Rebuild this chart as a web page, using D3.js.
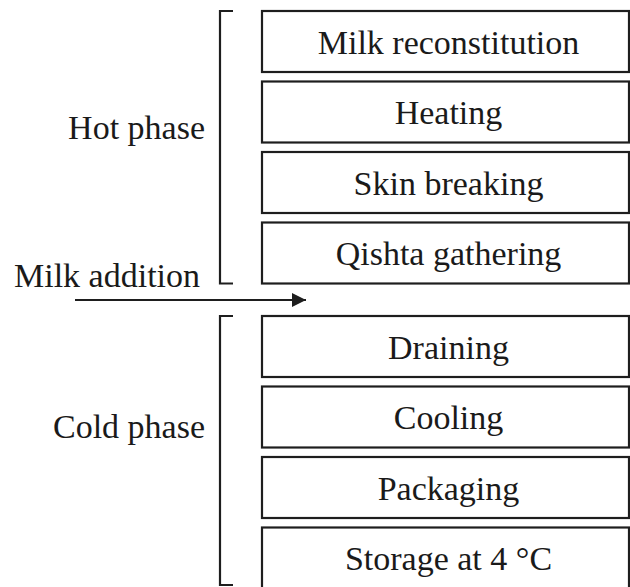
<!DOCTYPE html>
<html>
<head>
<meta charset="utf-8">
<script src="https://cdn.jsdelivr.net/npm/d3@7"></script>
<style>
  body { margin: 0; background: #fff; }
</style>
</head>
<body>
<div id="vis"></div>
<script>
/* Data */
var hotSteps = ["Milk reconstitution", "Heating", "Skin breaking", "Qishta gathering"];
var coldSteps = ["Draining", "Cooling", "Packaging", "Storage at 4 \u00B0C"];
var phaseNames = ["Hot phase", "Cold phase"];
var arrowLabel = "Milk addition";

var width = 630, height = 587;
var ink = "#1e1e1e";
var font = "'Times New Roman', 'Liberation Serif', Times, serif";

var svg = d3.select("#vis").append("svg")
    .attr("width", width).attr("height", height)
    .attr("font-family", font);

svg.append("defs").append("marker")
    .attr("id", "arrowhead")
    .attr("viewBox", "0 -5 10 10")
    .attr("refX", 10).attr("refY", 0)
    .attr("orient", "auto")
    .attr("markerUnits", "userSpaceOnUse")
    .attr("markerWidth", 16).attr("markerHeight", 14)
    .append("path").attr("d", "M0,-5L10,0L0,5Z").attr("fill", ink);

/* Scales */
var boxX = d3.scaleLinear().domain([0, 1]).range([262, 629]);
var boxH = 61;
var phases = [
    { name: phaseNames[0], steps: hotSteps, y: d3.scaleLinear().domain([0, 4]).range([11, 293]), labelDy: -8 },
    { name: phaseNames[1], steps: coldSteps, y: d3.scaleLinear().domain([0, 4]).range([316, 598]), labelDy: -13 }
];

phases.forEach(function (p) {
    var g = svg.append("g").attr("class", "phase");

    // boxes
    var box = g.selectAll("g.step")
        .data(p.steps)
        .enter().append("g").attr("class", "step")
        .attr("transform", function (d, i) { return "translate(0," + p.y(i) + ")"; });

    box.append("rect")
        .attr("x", boxX(0)).attr("y", 0)
        .attr("width", boxX(1) - boxX(0)).attr("height", boxH)
        .attr("fill", "#fff").attr("stroke", ink).attr("stroke-width", 2.2);

    box.append("text")
        .attr("x", (boxX(0) + boxX(1)) / 2 + 3)
        .attr("y", boxH / 2 + 12)
        .attr("text-anchor", "middle")
        .attr("fill", "#1a1a1a")
        .attr("font-size", 34)
        .text(function (d) { return d; });

    // bracket
    var top = p.y(0), bottom = Math.min(p.y(p.steps.length - 1) + boxH, height - 2);
    g.append("path")
        .attr("d", "M233," + top + "H220V" + bottom + "H233")
        .attr("fill", "none").attr("stroke", ink).attr("stroke-width", 2.2);

    g.append("text")
        .attr("x", 205)
        .attr("y", (top + bottom) / 2 + p.labelDy)
        .attr("text-anchor", "end")
        .attr("fill", "#1a1a1a")
        .attr("font-size", 34)
        .text(p.name);
});

/* Milk addition arrow */
svg.append("text")
    .attr("x", 14).attr("y", 287)
    .attr("fill", "#1a1a1a")
    .attr("font-size", 34)
    .text(arrowLabel);

svg.append("line")
    .attr("x1", 75).attr("y1", 300)
    .attr("x2", 306).attr("y2", 300)
    .attr("stroke", ink).attr("stroke-width", 2.2)
    .attr("marker-end", "url(#arrowhead)");
</script>
</body>
</html>
